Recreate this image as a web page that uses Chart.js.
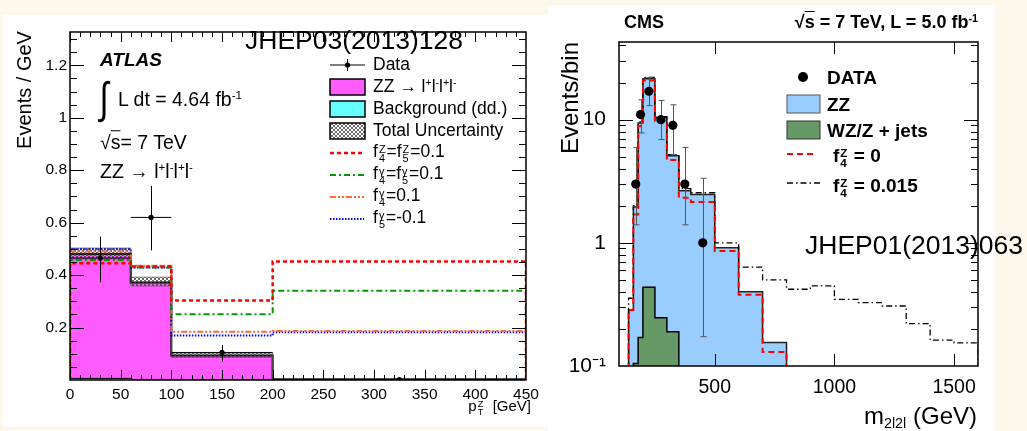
<!DOCTYPE html>
<html>
<head>
<meta charset="utf-8">
<script src="https://cdn.jsdelivr.net/npm/chart.js@4.4.1/dist/chart.umd.min.js"></script>
<style>
  html, body { margin: 0; padding: 0; }
  body {
    width: 1027px; height: 431px; position: relative; overflow: hidden;
    background: #fdf8ec; color: #000;
    font-family: "Liberation Sans", Arial, Helvetica, sans-serif;
  }
  .panel { position: absolute; background: #fff; }
  #leftPanel { left: 3px; top: 15px; width: 545px; height: 412px; }
  #rightPanel { left: 548px; top: 5px; width: 447px; height: 426px; }
  .panel canvas { position: absolute; left: 0; top: 0; }
  .t { position: absolute; line-height: 1; white-space: nowrap; transform: translateY(-50%); }
  .r { text-align: right; }
  .rot { position: absolute; line-height: 1; white-space: nowrap; transform: translate(-50%, -50%) rotate(-90deg); }
  sup { font-size: 0.6em; vertical-align: 0.6em; line-height: 0; }
  sub { font-size: 0.6em; vertical-align: -0.3em; line-height: 0; }
  .ss { display: inline-block; font-size: 0.62em; line-height: 0.85; vertical-align: -0.45em; margin: 0 1px; }
  .ss > span { display: block; }
  .ov { text-decoration: overline; }
  svg.marks { position: absolute; left: 0; top: 0; }
  .atl { font-size: 17.5px; }
  .cmsl { font-size: 19px; font-weight: bold; }
</style>
</head>
<body>

<div class="panel" id="leftPanel"><canvas id="atlasChart" width="545" height="412"></canvas></div>
<div class="panel" id="rightPanel"><canvas id="cmsChart" width="447" height="426"></canvas></div>

<svg class="marks" width="1027" height="431">
  <defs>
    <pattern id="hatch" width="4" height="4" patternUnits="userSpaceOnUse">
      <path d="M0,0 L4,4 M4,0 L0,4" stroke="#444" stroke-width="0.8"/>
    </pattern>
  </defs>
  <!-- ATLAS legend markers -->
  <line x1="330" y1="65" x2="365" y2="65" stroke="#000" stroke-width="1"/>
  <line x1="347.5" y1="59" x2="347.5" y2="71" stroke="#000" stroke-width="1"/>
  <circle cx="347.5" cy="65" r="2.6" fill="#000"/>
  <rect x="330" y="79" width="35" height="16" fill="#ff5bff" stroke="#000" stroke-width="1.5"/>
  <rect x="330" y="101" width="35" height="16" fill="#66ffff" stroke="#000" stroke-width="1.5"/>
  <rect x="330" y="123" width="35" height="16" fill="url(#hatch)" stroke="#000" stroke-width="1.5"/>
  <line x1="330" y1="153" x2="364" y2="153" stroke="#ff0000" stroke-width="2.5" stroke-dasharray="4 3"/>
  <line x1="330" y1="175" x2="364" y2="175" stroke="#009900" stroke-width="2" stroke-dasharray="6 3 2 3"/>
  <line x1="330" y1="197" x2="364" y2="197" stroke="#ff6633" stroke-width="2" stroke-dasharray="6 2 2 2 2 2"/>
  <line x1="330" y1="219" x2="364" y2="219" stroke="#0000ff" stroke-width="2" stroke-dasharray="1.5 1.5"/>
  <!-- CMS legend markers -->
  <circle cx="803" cy="77" r="5" fill="#000"/>
  <rect x="787" y="95" width="33" height="18" fill="#99ccff" stroke="#555" stroke-width="1"/>
  <rect x="787" y="121" width="33" height="18" fill="#669966" stroke="#333" stroke-width="1"/>
  <line x1="787" y1="154" x2="817" y2="154" stroke="#ff0000" stroke-width="2" stroke-dasharray="6 4"/>
  <line x1="787" y1="183" x2="820" y2="183" stroke="#000" stroke-width="1.3" stroke-dasharray="6 3 1.5 3"/>
</svg>

<!-- ATLAS texts -->
<div class="t" style="left:245px;top:40px;font-size:26.5px">JHEP03(2013)128</div>
<div class="t" style="left:100px;top:59px;font-size:19px;font-weight:bold;font-style:italic">ATLAS</div>
<div class="t" style="left:98px;top:98px;font-size:44px;transform:translateY(-50%) scaleX(0.75)">∫</div>
<div class="t" style="left:118px;top:100px;font-size:19.5px">L dt = 4.64 fb<sup>-1</sup></div>
<div class="t" style="left:100px;top:143px;font-size:19.5px">√<span class="ov">s</span>= 7 TeV</div>
<div class="t" style="left:100px;top:172px;font-size:19.5px">ZZ → l<sup>+</sup>l<sup>-</sup>l<sup>+</sup>l<sup>-</sup></div>

<div class="t atl" style="left:373px;top:65px">Data</div>
<div class="t atl" style="left:373px;top:87px">ZZ → l<sup>+</sup>l<sup>-</sup>l<sup>+</sup>l<sup>-</sup></div>
<div class="t atl" style="left:373px;top:109px">Background (dd.)</div>
<div class="t atl" style="left:373px;top:131px">Total Uncertainty</div>
<div class="t atl" style="left:373px;top:153px">f<span class="ss"><span>Z</span><span>4</span></span>=f<span class="ss"><span>Z</span><span>5</span></span>=0.1</div>
<div class="t atl" style="left:373px;top:175px">f<span class="ss"><span>γ</span><span>4</span></span>=f<span class="ss"><span>γ</span><span>5</span></span>=0.1</div>
<div class="t atl" style="left:373px;top:197px">f<span class="ss"><span>γ</span><span>4</span></span>=0.1</div>
<div class="t atl" style="left:373px;top:219px">f<span class="ss"><span>γ</span><span>5</span></span>=-0.1</div>

<div class="rot" style="left:24px;top:90px;font-size:20px">Events / GeV</div>
<div class="t r" style="right:496px;top:408px;font-size:15px">p<span class="ss"><span>Z</span><span>T</span></span> &nbsp;[GeV]</div>

<!-- CMS texts -->
<div class="t" style="left:624px;top:22px;font-size:18px;font-weight:bold">CMS</div>
<div class="t r" style="right:49px;top:22px;font-size:18px;font-weight:bold">√<span class="ov">s</span> = 7 TeV, L = 5.0 fb<sup>-1</sup></div>
<div class="t cmsl" style="left:827px;top:77px">DATA</div>
<div class="t cmsl" style="left:827px;top:104px">ZZ</div>
<div class="t cmsl" style="left:827px;top:130px">WZ/Z + jets</div>
<div class="t cmsl" style="left:833px;top:157px">f<span class="ss"><span>Z</span><span>4</span></span> = 0</div>
<div class="t cmsl" style="left:833px;top:187px">f<span class="ss"><span>Z</span><span>4</span></span> = 0.015</div>
<div class="t" style="left:805px;top:245px;font-size:26.5px">JHEP01(2013)063</div>
<div class="rot" style="left:570px;top:98px;font-size:24px">Events/bin</div>
<div class="t r" style="right:50px;top:416px;font-size:24px">m<sub>2l2l</sub> (GeV)</div>

<script>
// ================= ATLAS (left) DATA =================
const atlasEdges = [0, 60, 100, 200, 450];
const atlasZZTotal = [0.480, 0.372, 0.093, 0.003];
const atlasBackground = [0.006, 0.002, 0.002, 0.001];
const atlasUncLow = [0.462, 0.358, 0.086, 0.001];
const atlasUncHigh = [0.503, 0.392, 0.103, 0.005];
const atlasF4F5Z = [0.445, 0.433, 0.303, 0.452];
const atlasF4F5G = [0.458, 0.429, 0.251, 0.340];
const atlasF4G = [0.490, 0.436, 0.184, 0.187];
const atlasF5G = [0.499, 0.429, 0.170, 0.182];
const atlasDataX = [30, 80, 150, 325];
const atlasDataY = [0.465, 0.620, 0.105, 0.002];
const atlasDataLow = [0.372, 0.494, 0.070, 0.0];
const atlasDataHigh = [0.547, 0.740, 0.134, 0.004];
const atlasXTicks = [0, 50, 100, 150, 200, 250, 300, 350, 400, 450];
const atlasYTicks = [0.2, 0.4, 0.6, 0.8, 1.0, 1.2];

// ================= CMS (right) DATA =================
const cmsEdges = [140, 160, 180, 200, 250, 300, 350, 400, 500, 600, 700, 800];
const cmsZZ = [0.285, 1.95, 9.4, 21.5, 10.4, 5.1, 2.65, 2.47, 0.91, 0.40, 0.155];
const cmsF4Zero = [0.285, 1.70, 8.9, 20.8, 9.8, 4.7, 2.32, 2.15, 0.86, 0.378, 0.13];
const cmsWZEdges = [160, 180, 200, 250, 300, 350];
const cmsWZ = [0.105, 0.17, 0.435, 0.247, 0.19];
const cmsAnomEdges = [140, 160, 180, 200, 250, 300, 350, 400, 500, 600, 700, 800, 900, 1000, 1100, 1200, 1300, 1400, 1500, 1600];
const cmsF4Anom = [0.355, 2.0, 9.6, 22, 10.6, 5.2, 2.75, 2.55, 1.0, 0.635, 0.50, 0.42, 0.447, 0.348, 0.327, 0.307, 0.221, 0.162, 0.154];
const cmsDataX = [170, 190, 225, 275, 325, 375, 450];
const cmsDataY = [3, 11, 17, 10, 9, 3, 1];
const cmsDataLow = [1.4, 7.8, 13, 6.9, 5.2, 1.4, 0.173];
const cmsDataHigh = [5.95, 14.5, 22, 14.3, 13.2, 5.95, 3.34];
const cmsXTicks = [500, 1000, 1500];
const cmsYTicks = [0.1, 1, 10];
const cmsYLabels = ["10⁻¹", "1", "10"];

const FONT = "'Liberation Sans', Arial, Helvetica, sans-serif";

// histogram outline: up at first edge, flat per bin, down at last edge
function histPoints(edges, vals, base) {
  const pts = [];
  if (base !== undefined) pts.push({ x: edges[0], y: base });
  vals.forEach((v, i) => pts.push({ x: edges[i], y: v }));
  pts.push({ x: edges[edges.length - 1], y: vals[vals.length - 1] });
  if (base !== undefined) pts.push({ x: edges[edges.length - 1], y: base });
  return pts;
}

function range(a, b, step) {
  const out = [];
  for (let v = a; v <= b + 1e-9; v += step) out.push(+v.toFixed(6));
  return out;
}

function hatchPattern() {
  const c = document.createElement("canvas");
  c.width = 4; c.height = 4;
  const g = c.getContext("2d");
  g.strokeStyle = "#444";
  g.lineWidth = 0.8;
  g.beginPath();
  g.moveTo(0, 0); g.lineTo(4, 4);
  g.moveTo(4, 0); g.lineTo(0, 4);
  g.stroke();
  return g.createPattern(c, "repeat");
}

// ROOT-like frame with inward ticks on all four sides
function frameTicks(t) {
  return {
    id: "frameTicks",
    afterDatasetsDraw(chart) {
      const { ctx, chartArea: a } = chart;
      const xs = chart.scales.x, ys = chart.scales.y;
      ctx.save();
      ctx.strokeStyle = "#000";
      ctx.lineWidth = 1;
      ctx.beginPath();
      const vt = (v, len) => {
        const p = Math.round(xs.getPixelForValue(v)) + 0.5;
        if (p < a.left || p > a.right) return;
        ctx.moveTo(p, a.bottom); ctx.lineTo(p, a.bottom - len);
        ctx.moveTo(p, a.top); ctx.lineTo(p, a.top + len);
      };
      const ht = (v, len) => {
        const p = Math.round(ys.getPixelForValue(v)) + 0.5;
        if (p < a.top || p > a.bottom) return;
        ctx.moveTo(a.left, p); ctx.lineTo(a.left + len, p);
        ctx.moveTo(a.right, p); ctx.lineTo(a.right - len, p);
      };
      t.xMinor.forEach(v => vt(v, t.xMinorLen));
      t.xMajor.forEach(v => vt(v, t.xMajorLen));
      t.yMinor.forEach(v => ht(v, t.yMinorLen));
      t.yMajor.forEach(v => ht(v, t.yMajorLen));
      ctx.stroke();
      ctx.lineWidth = 1.5;
      ctx.strokeRect(a.left, a.top, a.width, a.height);
      ctx.restore();
    }
  };
}

// error bars drawn just before the data points of a dataset
const errorBars = {
  id: "errorBars",
  beforeDatasetDraw(chart, args) {
    const ds = chart.data.datasets[args.index];
    if (!ds.errLow) return;
    const { ctx } = chart;
    const xs = chart.scales.x, ys = chart.scales.y;
    ctx.save();
    ctx.strokeStyle = ds.errColor;
    ctx.lineWidth = 1;
    ctx.beginPath();
    ds.data.forEach((p, i) => {
      const px = Math.round(xs.getPixelForValue(p.x)) + 0.5;
      const lo = ys.getPixelForValue(ds.errLow[i]);
      const hi = ys.getPixelForValue(ds.errHigh[i]);
      ctx.moveTo(px, lo); ctx.lineTo(px, hi);
      if (ds.cap) {
        ctx.moveTo(px - ds.cap, lo); ctx.lineTo(px + ds.cap, lo);
        ctx.moveTo(px - ds.cap, hi); ctx.lineTo(px + ds.cap, hi);
      }
      if (ds.binEdges) {
        const py = ys.getPixelForValue(p.y);
        ctx.moveTo(xs.getPixelForValue(ds.binEdges[i]), py);
        ctx.lineTo(xs.getPixelForValue(ds.binEdges[i + 1]), py);
      }
    });
    ctx.stroke();
    ctx.restore();
  }
};

function stepLine(label, pts, color, width, dash, order) {
  return {
    label, data: pts, stepped: "before", fill: false,
    borderColor: color, borderWidth: width, borderDash: dash,
    pointRadius: 0, order
  };
}

// ================= ATLAS CHART =================
const atlasCtx = document.getElementById("atlasChart").getContext("2d");
new Chart(atlasCtx, {
  type: "line",
  data: {
    datasets: [
      {
        label: "Data",
        data: atlasDataX.map((x, i) => ({ x, y: atlasDataY[i] })),
        showLine: false, pointRadius: 2.6, pointBorderWidth: 0,
        pointBackgroundColor: "#000",
        errLow: atlasDataLow, errHigh: atlasDataHigh, binEdges: atlasEdges,
        errColor: "#000", order: 0
      },
      stepLine("f4Z=f5Z=0.1", histPoints(atlasEdges, atlasF4F5Z, 0), "#ff0000", 2.5, [4, 3], 1),
      stepLine("f4g=f5g=0.1", histPoints(atlasEdges, atlasF4F5G, 0), "#009900", 2, [6, 3, 2, 3], 2),
      stepLine("f4g=0.1", histPoints(atlasEdges, atlasF4G, 0), "#ff6633", 2, [6, 2, 2, 2, 2, 2], 3),
      stepLine("f5g=-0.1", histPoints(atlasEdges, atlasF5G, 0), "#0000ff", 2, [1.5, 1.5], 4),
      {
        label: "Total Uncertainty",
        data: histPoints(atlasEdges, atlasUncHigh),
        stepped: "before", fill: "+1",
        backgroundColor: hatchPattern(),
        borderColor: "rgba(90,90,90,0.8)", borderWidth: 1, pointRadius: 0, order: 5
      },
      {
        label: "unc low",
        data: histPoints(atlasEdges, atlasUncLow),
        stepped: "before", fill: false,
        borderColor: "rgba(90,90,90,0.6)", borderWidth: 1, pointRadius: 0, order: 6
      },
      {
        label: "Background (dd.)",
        data: histPoints(atlasEdges, atlasBackground, 0),
        stepped: "before", fill: "origin",
        backgroundColor: "#66ffff", borderColor: "#000", borderWidth: 1,
        pointRadius: 0, order: 7
      },
      {
        label: "ZZ",
        data: histPoints(atlasEdges, atlasZZTotal, 0),
        stepped: "before", fill: "origin",
        backgroundColor: "#ff5bff", borderColor: "#000", borderWidth: 2,
        pointRadius: 0, order: 8
      }
    ]
  },
  options: {
    responsive: false,
    animation: false,
    layout: { padding: { left: 0, right: 22, top: 17, bottom: 0 } },
    plugins: { legend: { display: false }, tooltip: { enabled: false } },
    scales: {
      x: {
        type: "linear", min: 0, max: 450,
        afterBuildTicks: s => { s.ticks = atlasXTicks.map(v => ({ value: v })); },
        afterFit: s => { s.height = 47; },
        grid: { display: false, drawTicks: false },
        border: { display: false },
        ticks: {
          color: "#000", font: { family: FONT, size: 15.5 }, padding: 5, maxRotation: 0, autoSkip: false,
          callback: v => String(v)
        }
      },
      y: {
        type: "linear", min: 0, max: 1.327,
        afterBuildTicks: s => { s.ticks = atlasYTicks.map(v => ({ value: v })); },
        afterFit: s => { s.width = 67; },
        grid: { display: false, drawTicks: false },
        border: { display: false },
        ticks: {
          color: "#000", font: { family: FONT, size: 15.5 }, padding: 3,
          callback: v => String(Math.round(v * 10) / 10)
        }
      }
    }
  },
  plugins: [errorBars, frameTicks({
    xMajor: atlasXTicks, xMinor: range(0, 450, 10), xMajorLen: 10, xMinorLen: 5,
    yMajor: atlasYTicks, yMinor: range(0, 1.3, 0.05), yMajorLen: 14, yMinorLen: 7
  })]
});

// ================= CMS CHART =================
const logMinor = [];
[0.1, 1, 10].forEach(d => { for (let k = 2; k <= 9; k++) logMinor.push(k * d); });

new Chart(document.getElementById("cmsChart").getContext("2d"), {
  type: "line",
  data: {
    datasets: [
      {
        label: "DATA",
        data: cmsDataX.map((x, i) => ({ x, y: cmsDataY[i] })),
        showLine: false, pointRadius: 4.6, pointBorderWidth: 0,
        pointBackgroundColor: "#000",
        errLow: cmsDataLow, errHigh: cmsDataHigh, cap: 3,
        errColor: "#555", order: 0
      },
      stepLine("f4Z = 0", histPoints(cmsEdges, cmsF4Zero, 0.01), "#ff0000", 2, [6, 4], 1),
      stepLine("f4Z = 0.015", histPoints(cmsAnomEdges, cmsF4Anom, 0.01), "#000", 1.3, [6, 3, 1.5, 3], 2),
      {
        label: "WZ/Z + jets",
        data: histPoints(cmsWZEdges, cmsWZ, 0.01),
        stepped: "before", fill: "start",
        backgroundColor: "#669966", borderColor: "#000", borderWidth: 1.5,
        pointRadius: 0, order: 3
      },
      {
        label: "ZZ",
        data: histPoints(cmsEdges, cmsZZ, 0.01),
        stepped: "before", fill: "start",
        backgroundColor: "#99ccff", borderColor: "#222", borderWidth: 1.5,
        pointRadius: 0, order: 4
      }
    ]
  },
  options: {
    responsive: false,
    animation: false,
    layout: { padding: { left: 0, right: 17, top: 37, bottom: 0 } },
    plugins: { legend: { display: false }, tooltip: { enabled: false } },
    scales: {
      x: {
        type: "linear", min: 100, max: 1600,
        afterBuildTicks: s => { s.ticks = cmsXTicks.map(v => ({ value: v })); },
        afterFit: s => { s.height = 65; },
        grid: { display: false, drawTicks: false },
        border: { display: false },
        ticks: {
          color: "#000", font: { family: FONT, size: 19.5 }, padding: 10, maxRotation: 0, autoSkip: false,
          callback: v => String(v)
        }
      },
      y: {
        type: "logarithmic", min: 0.1, max: 42.7,
        afterBuildTicks: s => { s.ticks = cmsYTicks.map(v => ({ value: v })); },
        afterFit: s => { s.width = 71; },
        grid: { display: false, drawTicks: false },
        border: { display: false },
        ticks: {
          color: "#000", font: { family: FONT, size: 21 }, padding: 13,
          callback: v => cmsYLabels[cmsYTicks.indexOf(v)]
        }
      }
    }
  },
  plugins: [errorBars, frameTicks({
    xMajor: cmsXTicks, xMinor: [], xMajorLen: 12, xMinorLen: 0,
    yMajor: cmsYTicks, yMinor: logMinor, yMajorLen: 14, yMinorLen: 7
  })]
});
</script>
</body>
</html>
